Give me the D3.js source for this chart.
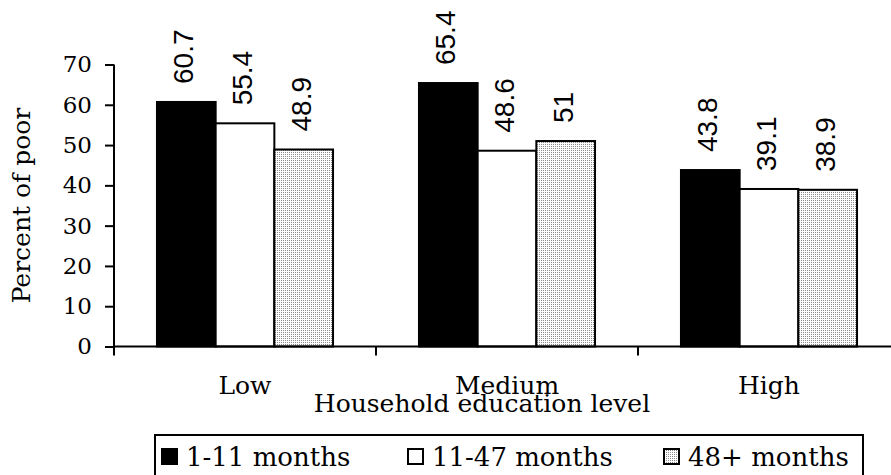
<!DOCTYPE html>
<html>
<head>
<meta charset="utf-8">
<script src="https://cdn.jsdelivr.net/npm/d3@7"></script>
<style>
  html, body { margin: 0; padding: 0; background: #fff; }
  svg { display: block; }
</style>
</head>
<body>
<div id="chart"></div>
<script>
/* Data */
const categories = ['Low', 'Medium', 'High'];
const seriesNames = ['1-11 months', '11-47 months', '48+ months'];
const valuesShort = [60.7, 65.4, 43.8];
const valuesMid = [55.4, 48.6, 39.1];
const valuesLong = [48.9, 51, 38.9];
const yTicks = [0, 10, 20, 30, 40, 50, 60, 70];

const seriesValues = [valuesShort, valuesMid, valuesLong];
const fills = ['#000', '#fff', 'url(#dots)'];

function initChart() {
    'use strict';

    const width = 891, height = 475;
    const serif = 'DejaVu Serif, serif';

    const svg = d3.select('#chart').append('svg')
        .attr('width', width)
        .attr('height', height);

    /* dotted fill for the third series */
    const pat = svg.append('defs').append('pattern')
        .attr('id', 'dots')
        .attr('width', 2).attr('height', 2)
        .attr('patternUnits', 'userSpaceOnUse');
    pat.append('rect').attr('width', 2).attr('height', 2).attr('fill', '#fff');
    pat.append('rect').attr('width', 1).attr('height', 1).attr('fill', '#8a8a8a');

    /* Scales */
    const x0 = d3.scaleBand()
        .domain(categories)
        .range([114, 900])
        .paddingInner(0.328)
        .paddingOuter(0.164);

    const x1 = d3.scaleBand()
        .domain(seriesNames)
        .range([0, x0.bandwidth()]);

    const y = d3.scaleLinear()
        .domain([0, 70])
        .range([346.5, 64.5]);

    /* Bars */
    const rows = categories.map((c, i) => ({
        cat: c,
        vals: seriesNames.map((s, j) => ({ s, j, v: seriesValues[j][i] }))
    }));

    const groups = svg.append('g').selectAll('g')
        .data(rows)
        .join('g')
        .attr('transform', d => `translate(${x0(d.cat)},0)`);

    groups.selectAll('rect')
        .data(d => d.vals)
        .join('rect')
        .attr('x', d => x1(d.s))
        .attr('y', d => y(d.v))
        .attr('width', x1.bandwidth())
        .attr('height', d => y(0) - y(d.v))
        .attr('fill', d => fills[d.j])
        .attr('stroke', '#000')
        .attr('stroke-width', 2);

    groups.selectAll('text')
        .data(d => d.vals)
        .join('text')
        .attr('transform', d => `translate(${x1(d.s) + x1.bandwidth() / 2},${y(d.v) - 18}) rotate(-90)`)
        .attr('dy', '0.25em')
        .attr('text-anchor', 'start')
        .attr('font-family', 'Liberation Sans, Arial, sans-serif')
        .attr('font-size', 28)
        .text(d => d.v);

    /* Y axis */
    const yAxis = svg.append('g')
        .attr('transform', 'translate(114,0)')
        .call(d3.axisLeft(y).tickValues(yTicks).tickSize(9).tickPadding(13).tickSizeOuter(0));
    yAxis.select('.domain').remove();
    yAxis.selectAll('line').attr('stroke', '#000').attr('stroke-width', 2);
    yAxis.selectAll('text')
        .attr('font-family', serif)
        .attr('font-size', 23)
        .attr('fill', '#000');
    svg.append('line')
        .attr('x1', 114).attr('x2', 114)
        .attr('y1', y(70)).attr('y2', y(0) + 9)
        .attr('stroke', '#000').attr('stroke-width', 2);

    /* X axis */
    svg.append('line')
        .attr('x1', 114).attr('x2', width)
        .attr('y1', y(0)).attr('y2', y(0))
        .attr('stroke', '#000').attr('stroke-width', 2);

    const half = x0.step() * x0.paddingInner() / 2;
    const bounds = categories.map(c => x0(c) + x0.bandwidth() + half);
    svg.append('g').selectAll('line')
        .data(bounds)
        .join('line')
        .attr('x1', d => d).attr('x2', d => d)
        .attr('y1', y(0)).attr('y2', y(0) + 9)
        .attr('stroke', '#000').attr('stroke-width', 2);

    svg.append('g').selectAll('text')
        .data(categories)
        .join('text')
        .attr('x', d => x0(d) + x0.bandwidth() / 2)
        .attr('y', 394)
        .attr('text-anchor', 'middle')
        .attr('font-family', serif)
        .attr('font-size', 25)
        .text(d => d);

    svg.append('text')
        .attr('x', 482)
        .attr('y', 412)
        .attr('text-anchor', 'middle')
        .attr('font-family', serif)
        .attr('font-size', 25)
        .text('Household education level');

    svg.append('text')
        .attr('transform', `translate(30,${(y(0) + y(70)) / 2}) rotate(-90)`)
        .attr('text-anchor', 'middle')
        .attr('font-family', serif)
        .attr('font-size', 25)
        .text('Percent of poor');

    /* Legend */
    const legendX = [162, 408, 664];
    svg.append('rect')
        .attr('x', 155).attr('y', 435)
        .attr('width', 708).attr('height', 60)
        .attr('fill', 'none')
        .attr('stroke', '#000').attr('stroke-width', 2);

    const items = svg.append('g').selectAll('g')
        .data(seriesNames)
        .join('g')
        .attr('transform', (d, i) => `translate(${legendX[i]},0)`);

    items.append('rect')
        .attr('x', 0).attr('y', 449)
        .attr('width', 15).attr('height', 15)
        .attr('fill', (d, i) => fills[i])
        .attr('stroke', '#000').attr('stroke-width', 2);

    items.append('text')
        .attr('x', 24).attr('y', 466)
        .attr('font-family', serif)
        .attr('font-size', 26)
        .text(d => d);
}

if (document.readyState === 'loading') {
    document.addEventListener('DOMContentLoaded', initChart);
} else {
    initChart();
}
</script>
</body>
</html>
